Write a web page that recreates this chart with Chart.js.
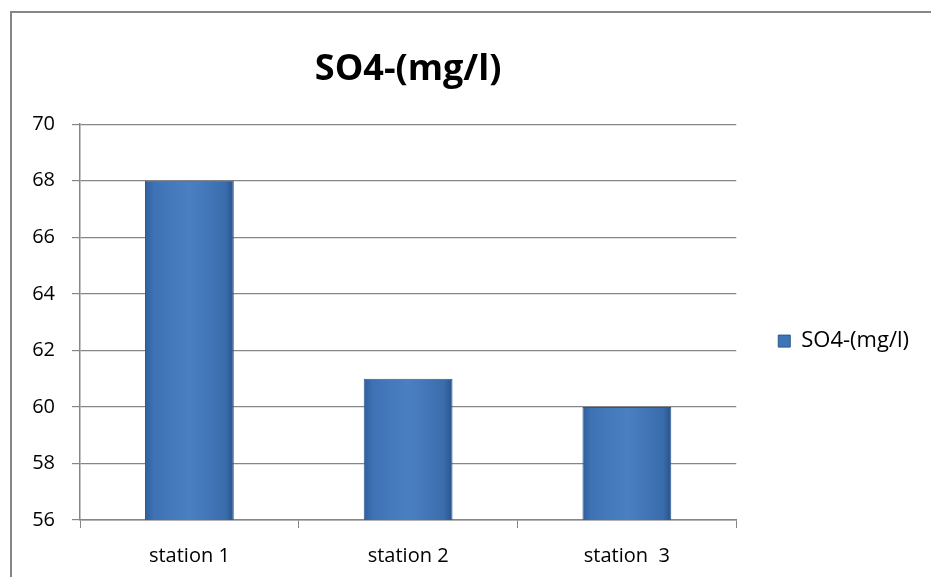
<!DOCTYPE html>
<html>
<head>
<meta charset="utf-8">
<script src="https://cdn.jsdelivr.net/npm/chart.js@4.4.1/dist/chart.umd.min.js"></script>
<style>
  html, body { margin: 0; padding: 0; background: #fff; }
  #wrap { width: 931px; height: 577px; }
</style>
</head>
<body>
<div id="wrap"><canvas id="chartSO4"></canvas></div>
<script>
  // dados do gráfico
  const stations = ["station 1", "station 2", "station  3"];
  const so4Values = [68, 61, 60];
  const seriesName = "SO4-(mg/l)";
  const yMin = 56;
  const yMax = 70;
  const yStep = 2;

  const axisGray = "#868686";
  const fontName = "'Open Sans', 'Liberation Sans', sans-serif";
  const barPct = 0.406;

  // gradiente horizontal de cada barra (bordas mais escuras)
  const barFill = (ctx) => {
    const chart = ctx.chart;
    const xs = chart.scales && chart.scales.x;
    if (!xs || !xs.width || ctx.type !== "data") return "#3f74b6";
    const cx = xs.getPixelForValue(ctx.dataIndex);
    const half = (xs.width / stations.length) * barPct / 2;
    const g = chart.ctx.createLinearGradient(cx - half, 0, cx + half, 0);
    g.addColorStop(0, "#2f5f9c");
    g.addColorStop(0.1, "#3e72b4");
    g.addColorStop(0.5, "#4a80c3");
    g.addColorStop(0.9, "#3b6dad");
    g.addColorStop(1, "#29548c");
    return g;
  };

  // moldura cinza do gráfico (canto superior esquerdo)
  const frame = {
    id: "frame",
    beforeDraw(chart) {
      const c = chart.ctx;
      c.save();
      c.strokeStyle = axisGray;
      c.lineWidth = 2;
      c.beginPath();
      c.moveTo(11, chart.height);
      c.lineTo(11, 12);
      c.lineTo(chart.width, 12);
      c.stroke();
      c.restore();
    },
  };

  new Chart(document.getElementById("chartSO4"), {
    type: "bar",
    data: {
      labels: stations,
      datasets: [
        {
          label: seriesName,
          data: so4Values,
          backgroundColor: barFill,
          borderColor: "#2c5890",
          borderWidth: 1,
          barPercentage: barPct,
          categoryPercentage: 1,
        },
      ],
    },
    options: {
      responsive: true,
      maintainAspectRatio: false,
      animation: false,
      layout: { padding: { left: 10, right: 12, top: 0, bottom: 0 } },
      plugins: {
        title: {
          display: true,
          fullSize: false,
          text: seriesName,
          color: "#000",
          font: { family: fontName, size: 36, weight: "bold" },
          padding: { top: 48, bottom: 33 },
        },
        legend: {
          position: "right",
          fullSize: false,
          title: {
            display: true,
            text: " ",
            font: { size: 10 },
            padding: { top: 13, bottom: 13 },
          },
          labels: {
            color: "#000",
            font: { family: fontName, size: 22 },
            boxWidth: 12,
            boxHeight: 12,
            padding: 42,
            generateLabels: (chart) => [
              {
                text: seriesName,
                fillStyle: "#3f74b6",
                strokeStyle: "#2c5890",
                fontColor: "#000",
                lineWidth: 1,
                datasetIndex: 0,
              },
            ],
          },
        },
        tooltip: { enabled: false },
      },
      scales: {
        x: {
          offset: true,
          grid: {
            display: true,
            drawOnChartArea: false,
            drawTicks: true,
            tickLength: 8,
            color: axisGray,
            offset: true,
          },
          border: { display: true, color: axisGray, width: 1.5 },
          ticks: {
            color: "#000",
            font: { family: fontName, size: 20 },
            padding: 16,
          },
          afterFit: (s) => {
            s.height = 57;
          },
        },
        y: {
          min: yMin,
          max: yMax,
          grid: {
            color: axisGray,
            lineWidth: 1.2,
            tickLength: 8,
          },
          border: { display: true, color: axisGray, width: 1.5 },
          ticks: {
            stepSize: yStep,
            color: "#000",
            font: { family: fontName, size: 20 },
            padding: 17,
          },
          afterFit: (s) => {
            s.width = 70;
          },
        },
      },
    },
    plugins: [frame],
  });
</script>
</body>
</html>
